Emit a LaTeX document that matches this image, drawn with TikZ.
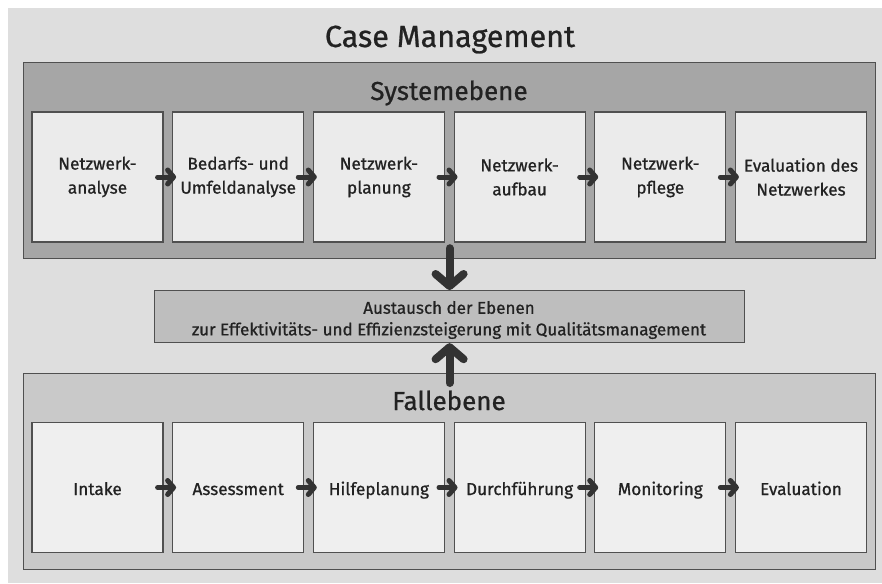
\documentclass[tikz,border=0pt]{standalone}
\usepackage{fontspec}
\setmainfont{Fira Sans}[FakeBold=1]
\newfontfamily\boxfont{Fira Sans}[FakeBold=0.8]
\usetikzlibrary{arrows.meta}
\definecolor{bgcol}{HTML}{DEDEDE}
\definecolor{syscol}{HTML}{A6A6A6}
\definecolor{midcol}{HTML}{BEBEBE}
\definecolor{fallcol}{HTML}{C9C9C9}
\definecolor{subA}{HTML}{EBEBEB}
\definecolor{subB}{HTML}{EFEFEF}
\definecolor{edgecol}{HTML}{505050}
\definecolor{arrcol}{HTML}{333333}
\definecolor{txtcol}{HTML}{222222}
\tikzset{
  panel/.style={draw=edgecol, line width=1.2pt, anchor=north west, inner sep=0pt},
  subbox/.style={draw=edgecol, line width=1.2pt, minimum width=131pt, minimum height=130pt,
    inner sep=0pt, align=center, text=txtcol, font=\boxfont\fontsize{17.2}{24}\selectfont},
  fallbox/.style={subbox, text height=15pt, text depth=0pt},
  flow/.style={draw=arrcol, line width=5pt, line cap=round,
    -{Straight Barb[round, length=6pt, width=14pt]},
    shorten <=-6pt, shorten >=-4pt},
  bigflow/.style={draw=arrcol, line width=8pt, line cap=round,
    -{Straight Barb[round, length=12pt, width=28pt]}},
  heading/.style={anchor=base, text=txtcol, inner sep=0pt}
}
\begin{document}
\begin{tikzpicture}[x=1pt, y=-1pt]
\useasboundingbox (0,0) rectangle (882,583);
\fill[bgcol] (8,8) rectangle (882,583);
\node[heading, font=\boxfont\fontsize{30.5}{36}\selectfont] (title) at (450,47) {Case Management};
% Systemebene
\node[panel, fill=syscol, minimum width=852pt, minimum height=196pt] (sys) at (23,62) {};
\node[heading, font=\boxfont\fontsize{26}{32}\selectfont] (systitle) at (449,100) {Systemebene};
\foreach \i/\t in {1/{Netzwerk-\\analyse},2/{Bedarfs- und\\Umfeldanalyse},3/{Netzwerk-\\planung},4/{Netzwerk-\\aufbau},5/{Netzwerk-\\pflege},6/{Evaluation des\\Netzwerkes}}{
  \node[subbox, fill=subA] (s\i) at ({97.5+140.7*(\i-1)},177) {\t};
}
% Middle
\node[panel, fill=midcol, minimum width=590pt, minimum height=52pt] (mid) at (154,290) {};
\node[text=txtcol, align=center, font=\boxfont\fontsize{17}{21.6}\selectfont, inner sep=0pt] (midtext) at (449,320) {Austausch der Ebenen\\zur Effektivitäts- und Effizienzsteigerung mit Qualitätsmanagement};
% Fallebene
\node[panel, fill=fallcol, minimum width=852pt, minimum height=196pt] (fall) at (23,373) {};
\node[heading, font=\boxfont\fontsize{26}{32}\selectfont] (falltitle) at (449,410) {Fallebene};
\foreach \i/\t in {1/Intake,2/Assessment,3/Hilfeplanung,4/Durchführung,5/Monitoring,6/Evaluation}{
  \node[fallbox, fill=subB] (f\i) at ({97.5+140.7*(\i-1)},487.5) {\t};
}
% flow arrows
\foreach \a/\b in {1/2,2/3,3/4,4/5,5/6}{
  \draw[flow] (s\a.east) -- (s\b.west);
  \draw[flow] (f\a.east) -- (f\b.west);
}
\draw[bigflow, shorten <=-11pt] (sys.south) -- (mid.north);
\draw[bigflow, shorten <=-10pt] (fall.north) -- (mid.south);
\end{tikzpicture}
\end{document}
